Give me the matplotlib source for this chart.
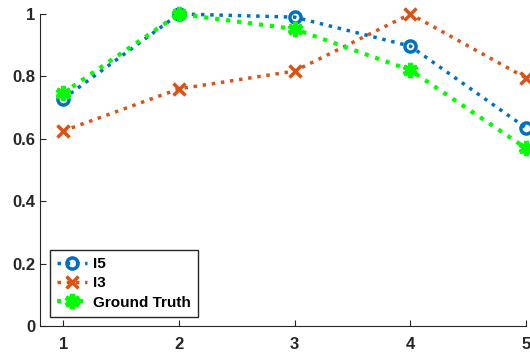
import matplotlib.pyplot as plt
import numpy as np

x = [1, 2, 3, 4, 5]
i5 = [0.728, 1.0, 0.99, 0.897, 0.635]
i3 = [0.625, 0.76, 0.817, 1.0, 0.795]
gt = [0.747, 1.0, 0.952, 0.82, 0.57]
labels = ['I5', 'I3', 'Ground Truth']

plt.rcParams['font.family'] = 'Liberation Sans'
plt.rcParams['font.weight'] = 'bold'

fig = plt.figure(figsize=(5.3, 3.54), dpi=100)
ax = fig.add_axes([40 / 530, 28 / 354, 486 / 530, 312 / 354])

ax.plot(x, i5, ':', color=(0, 0.447, 0.741), lw=2.5, marker='o',
        mfc='none', mew=2.5, ms=8, label=labels[0], clip_on=False)
ax.plot(x, i3, ':', color=(0.85, 0.325, 0.098), lw=2.5, marker='x',
        mew=2.5, ms=8, label=labels[1], clip_on=False)
ax.plot(x, gt, ':', color=(0, 1, 0), lw=3, marker=(6, 2, 0),
        mew=3.5, ms=11, label=labels[2], clip_on=False)

ax.set_xlim(0.8, 5)
ax.set_ylim(0, 1)
ax.set_xticks(x)
ax.set_yticks([0, 0.2, 0.4, 0.6, 0.8, 1])
ax.set_yticklabels(['0', '0.2', '0.4', '0.6', '0.8', '1'])
for s in ['top', 'right']:
    ax.spines[s].set_visible(False)
for s in ['left', 'bottom']:
    ax.spines[s].set_color('#262626')
ax.tick_params(direction='in', length=4, labelsize=12, colors='#262626')
ax.tick_params(axis='x', pad=8)
ax.patch.set_alpha(0)

leg = ax.legend(loc='lower left', bbox_to_anchor=(0.02, 0.03), fontsize=11,
                fancybox=False, edgecolor='#262626', framealpha=1,
                handlelength=2.0, handletextpad=0.4, borderpad=0.45,
                labelspacing=0.35, borderaxespad=0)
leg.get_frame().set_linewidth(1)

fig.savefig('out.png', dpi=100)
